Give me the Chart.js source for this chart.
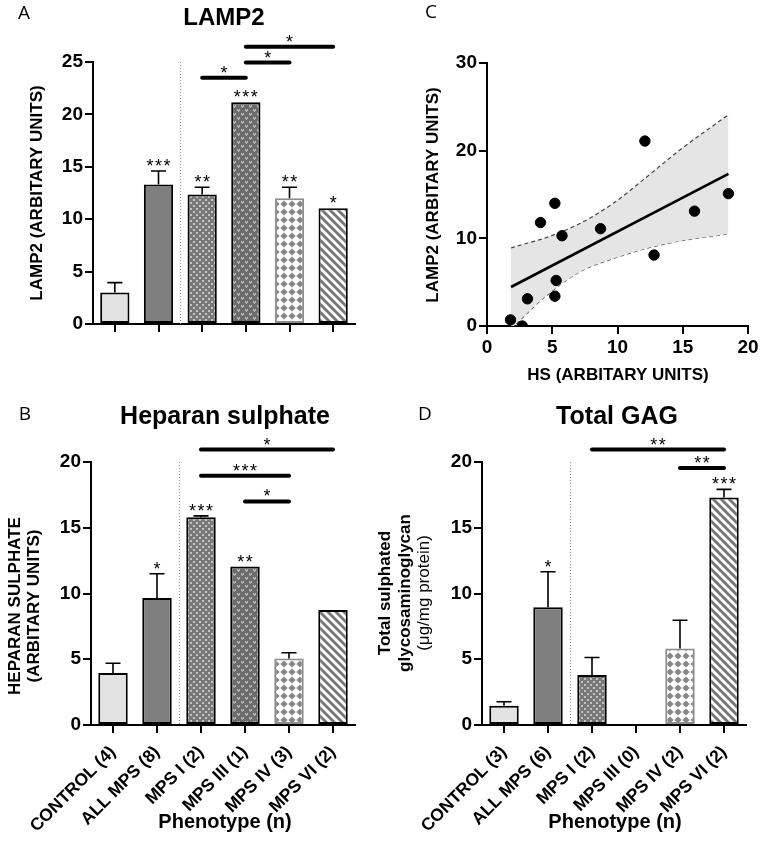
<!DOCTYPE html>
<html>
<head>
<meta charset="utf-8">
<script src="https://cdn.jsdelivr.net/npm/chart.js@4.4.1/dist/chart.umd.min.js"></script>
<style>
body { margin: 0; background: #fff; width: 762px; height: 859px; position: relative; overflow: hidden; }
canvas { position: absolute; }
</style>
</head>
<body>
<canvas id="chartA" width="380" height="380" style="left:0px;top:0px"></canvas>
<canvas id="chartC" width="382" height="395" style="left:380px;top:0px"></canvas>
<canvas id="chartB" width="370" height="479" style="left:0px;top:380px"></canvas>
<canvas id="chartD" width="392" height="479" style="left:370px;top:380px"></canvas>
<script>
// --- data ---
const groups = ['CONTROL', 'ALL MPS', 'MPS I', 'MPS III', 'MPS IV', 'MPS VI'];
const hsLabels = ['CONTROL (4)', 'ALL MPS (8)', 'MPS I (2)', 'MPS III (1)', 'MPS IV (3)', 'MPS VI (2)'];
const gagLabels = ['CONTROL (3)', 'ALL MPS (6)', 'MPS I (2)', 'MPS III (0)', 'MPS IV (2)', 'MPS VI (2)'];

const lamp2Mean = [3.0, 13.3, 12.35, 21.15, 12.0, 11.05];
const lamp2Err = [0.95, 1.3, 0.7, 0, 1.05, 0];
const lamp2Stars = ['', '***', '**', '***', '**', '*'];
const lamp2Pairs = [[2, 3, 23.5, '*'], [3, 4, 24.95, '*'], [3, 5, 26.45, '*']];

const hsMean = [3.95, 9.65, 15.8, 12.05, 5.05, 8.75];
const hsErr = [0.75, 1.85, 0.1, 0, 0.45, 0];
const hsStars = ['', '*', '***', '**', '', ''];
const hsPairs = [[2, 5, 20.95, '*'], [2, 4, 18.95, '***'], [3, 4, 17.0, '*']];

const gagMean = [1.47, 8.95, 3.8, null, 5.82, 17.3];
const gagErr = [0.3, 2.7, 1.33, 0, 2.15, 0.62];
const gagStars = ['', '*', '', '', '', '***'];
const gagPairs = [[2, 5, 20.95, '**'], [4, 5, 19.55, '**']];

// panel C scatter
const hsX = [1.8, 2.7, 3.1, 4.1, 5.2, 5.3, 5.2, 5.75, 8.7, 12.1, 12.8, 15.9, 18.5];
const lampY = [0.7, 0.0, 3.1, 11.8, 14.0, 5.2, 3.4, 10.3, 11.1, 21.1, 8.1, 13.1, 15.1];
const fitX = [1.84, 18.5];
const fitY = [4.45, 17.35];
const bandX = [1.84, 2.27, 4.57, 7.13, 9.68, 12.24, 14.8, 18.5];
const bandUpper = [8.9, 9.1, 10.1, 11.7, 14.0, 17.0, 20.1, 24.1];
const bandLower = [-0.3, 0.3, 3.5, 6.2, 7.7, 8.86, 9.7, 10.5];

Chart.defaults.font.family = '"Liberation Sans", Arial, sans-serif';
Chart.defaults.color = '#000';

function makePattern(kind) {
  const c = document.createElement('canvas');
  const g = c.getContext('2d');
  if (kind === 'dots') {
    c.width = 6; c.height = 6;
    g.fillStyle = '#787878'; g.fillRect(0, 0, 6, 6);
    g.fillStyle = '#c2c2c2';
    g.fillRect(1, 1, 2, 2); g.fillRect(4, 4, 2, 2);
  } else if (kind === 'hearts') {
    c.width = 8; c.height = 8;
    g.fillStyle = '#6c6c6c'; g.fillRect(0, 0, 8, 8);
    g.fillStyle = '#b9b9b9';
    [[0, 0], [4, 4]].forEach(([ox, oy]) => {
      g.fillRect(ox + 1, oy + 1, 1, 1); g.fillRect(ox + 3, oy + 1, 1, 1);
      g.fillRect(ox + 1, oy + 2, 3, 1); g.fillRect(ox + 2, oy + 3, 1, 1);
    });
  } else if (kind === 'diamonds') {
    c.width = 8; c.height = 8;
    g.fillStyle = '#fff'; g.fillRect(0, 0, 8, 8);
    g.fillStyle = '#868686';
    g.beginPath();
    g.moveTo(4, 0.4); g.lineTo(7.6, 4); g.lineTo(4, 7.6); g.lineTo(0.4, 4);
    g.closePath(); g.fill();
  } else {
    c.width = 8; c.height = 8;
    g.fillStyle = '#fff'; g.fillRect(0, 0, 8, 8);
    g.strokeStyle = '#777'; g.lineWidth = 2.9;
    [-8, 0, 8].forEach(o => { g.beginPath(); g.moveTo(o - 1, -1); g.lineTo(o + 9, 9); g.stroke(); });
  }
  return c.getContext('2d').createPattern(c, 'repeat');
}

const barFills = ['#e3e3e3', '#7f7f7f', makePattern('dots'), makePattern('hearts'), makePattern('diamonds'), makePattern('stripes')];
const barBorders = ['#000', '#000', '#000', '#000', '#8c8c8c', '#000'];

const tickFont = { size: 19, weight: 'bold' };

function texts(items) {
  return {
    id: 'texts',
    afterDraw(chart) {
      const ctx = chart.ctx;
      items.forEach(t => {
        ctx.save();
        ctx.font = t.font;
        ctx.fillStyle = '#000';
        ctx.textAlign = 'center';
        ctx.textBaseline = 'middle';
        ctx.translate(t.x, t.y);
        if (t.rot) ctx.rotate(-Math.PI / 2);
        ctx.fillText(t.text, 0, 0);
        ctx.restore();
      });
    }
  };
}

function starText(s) {
  return s.split('').join('\u200a');
}

// separator, error bars, stars and comparison bars
function barDecor(mean, err, stars, pairs) {
  return {
    id: 'barDecor',
    afterDraw(chart) {
      const ctx = chart.ctx;
      const x = chart.scales.x, y = chart.scales.y;
      const area = chart.chartArea;
      ctx.save();
      const sepX = Math.round((x.getPixelForValue(1) + x.getPixelForValue(2)) / 2) + 0.5;
      ctx.strokeStyle = '#8a8a8a';
      ctx.lineWidth = 1;
      ctx.setLineDash([1, 2]);
      ctx.beginPath(); ctx.moveTo(sepX, area.top); ctx.lineTo(sepX, area.bottom); ctx.stroke();
      ctx.setLineDash([]);

      ctx.strokeStyle = '#000';
      ctx.lineWidth = 1.6;
      ctx.fillStyle = '#000';
      ctx.font = '18px "Liberation Sans"';
      ctx.textAlign = 'center';
      ctx.textBaseline = 'alphabetic';
      mean.forEach((m, i) => {
        if (m == null) return;
        const cx = x.getPixelForValue(i);
        let top = y.getPixelForValue(m);
        if (err[i]) {
          const ye = y.getPixelForValue(m + err[i]);
          ctx.beginPath();
          ctx.moveTo(cx, top); ctx.lineTo(cx, ye);
          ctx.moveTo(cx - 7.5, ye); ctx.lineTo(cx + 7.5, ye);
          ctx.stroke();
          top = ye;
        }
        if (stars[i]) ctx.fillText(starText(stars[i]), cx, top + 1);
      });

      ctx.lineWidth = 4;
      ctx.lineCap = 'round';
      pairs.forEach(([a, b, level, s]) => {
        const x1 = x.getPixelForValue(a), x2 = x.getPixelForValue(b);
        const ly = y.getPixelForValue(level);
        ctx.beginPath(); ctx.moveTo(x1, ly); ctx.lineTo(x2, ly); ctx.stroke();
        ctx.fillText(starText(s), (x1 + x2) / 2, ly + 1);
      });
      ctx.restore();
    }
  };
}

function yAxis(max, step, width) {
  return {
    min: 0, max: max,
    ticks: { stepSize: step, font: tickFont, padding: 2, color: '#000' },
    grid: { drawOnChartArea: false, drawTicks: true, tickLength: 8, color: '#000', lineWidth: 2 },
    border: { color: '#000', width: 2 },
    afterFit: s => { s.width = width; }
  };
}

function xAxis(height, showLabels) {
  return {
    offset: true,
    ticks: showLabels
      ? { font: { size: 17.5, weight: 'bold' }, minRotation: 45, maxRotation: 45, autoSkip: false, padding: 9, color: '#000' }
      : { display: false },
    grid: { offset: false, drawOnChartArea: false, drawTicks: true, tickLength: 8, color: '#000', lineWidth: 2 },
    border: { color: '#000', width: 2 },
    afterFit: s => { s.height = height; }
  };
}

function barChart(id, labels, mean, err, stars, pairs, yMax, opts, extraTexts) {
  return new Chart(document.getElementById(id), {
    type: 'bar',
    data: {
      labels: labels,
      datasets: [{
        data: mean,
        backgroundColor: barFills,
        borderColor: barBorders,
        borderWidth: 2,
        borderSkipped: false,
        categoryPercentage: 1,
        barPercentage: 0.67
      }]
    },
    options: {
      responsive: false,
      animation: false,
      layout: { padding: opts.padding },
      plugins: { legend: { display: false }, tooltip: { enabled: false } },
      scales: {
        x: xAxis(opts.xHeight, opts.showLabels),
        y: yAxis(yMax, 5, opts.yWidth)
      }
    },
    plugins: [barDecor(mean, err, stars, pairs), texts(extraTexts)]
  });
}

// A - LAMP2
barChart('chartA', groups, lamp2Mean, lamp2Err, lamp2Stars, lamp2Pairs, 25,
  { padding: { top: 62, right: 25, left: 0, bottom: 0 }, xHeight: 56, yWidth: 93, showLabels: false },
  [
    { text: 'A', x: 24, y: 14, font: '19px "Open Sans"' },
    { text: 'LAMP2', x: 224, y: 18, font: 'bold 24px "Liberation Sans"' },
    { text: 'LAMP2 (ARBITARY UNITS)', x: 37, y: 193, rot: true, font: 'bold 17px "Liberation Sans"' }
  ]);

// B - Heparan sulphate
barChart('chartB', hsLabels, hsMean, hsErr, hsStars, hsPairs, 20,
  { padding: { top: 82, right: 15, left: 0, bottom: 0 }, xHeight: 134, yWidth: 91, showLabels: true },
  [
    { text: 'B', x: 25, y: 35, font: '19px "Open Sans"' },
    { text: 'Heparan sulphate', x: 225, y: 37, font: 'bold 25px "Liberation Sans"' },
    { text: 'HEPARAN SULPHATE', x: 15, y: 226, rot: true, font: 'bold 17px "Liberation Sans"' },
    { text: '(ARBITARY UNITS)', x: 34, y: 226, rot: true, font: 'bold 17px "Liberation Sans"' },
    { text: 'Phenotype (n)', x: 225, y: 442, font: 'bold 20px "Liberation Sans"' }
  ]);

// D - Total GAG
barChart('chartD', gagLabels, gagMean, gagErr, gagStars, gagPairs, 20,
  { padding: { top: 82, right: 16, left: 0, bottom: 0 }, xHeight: 134, yWidth: 112, showLabels: true },
  [
    { text: 'D', x: 55, y: 35, font: '19px "Open Sans"' },
    { text: 'Total GAG', x: 247, y: 37, font: 'bold 25px "Liberation Sans"' },
    { text: 'Total sulphated', x: 15, y: 213, rot: true, font: 'bold 17px "Liberation Sans"' },
    { text: 'glycosaminoglycan', x: 35, y: 213, rot: true, font: 'bold 17px "Liberation Sans"' },
    { text: '(\u03bcg/mg protein)', x: 54, y: 213, rot: true, font: '17px "Liberation Sans"' },
    { text: 'Phenotype (n)', x: 245, y: 442, font: 'bold 20px "Liberation Sans"' }
  ]);

// C - LAMP2 vs HS correlation
new Chart(document.getElementById('chartC'), {
  type: 'scatter',
  data: {
    datasets: [
      {
        data: hsX.map((v, i) => ({ x: v, y: lampY[i] })),
        backgroundColor: '#000',
        borderColor: '#000',
        pointRadius: 5.2,
        pointHoverRadius: 5.2
      },
      {
        type: 'line',
        data: fitX.map((v, i) => ({ x: v, y: fitY[i] })),
        borderColor: '#000',
        borderWidth: 2.6,
        pointRadius: 0,
        fill: false
      },
      {
        type: 'line',
        data: bandX.map((v, i) => ({ x: v, y: bandUpper[i] })),
        borderColor: '#444',
        borderWidth: 1.2,
        borderDash: [4, 3],
        pointRadius: 0,
        cubicInterpolationMode: 'monotone',
        backgroundColor: '#e5e5e5',
        fill: '+1',
        clip: 0
      },
      {
        type: 'line',
        data: bandX.map((v, i) => ({ x: v, y: bandLower[i] })),
        borderColor: '#444',
        borderWidth: 1.2,
        borderDash: [4, 3],
        pointRadius: 0,
        cubicInterpolationMode: 'monotone',
        fill: false,
        clip: 0
      }
    ]
  },
  options: {
    responsive: false,
    animation: false,
    layout: { padding: { top: 63, right: 14, left: 0, bottom: 0 } },
    plugins: { legend: { display: false }, tooltip: { enabled: false } },
    scales: {
      x: {
        type: 'linear', min: 0, max: 20,
        ticks: { stepSize: 5, font: tickFont, padding: 2, color: '#000' },
        grid: { drawOnChartArea: false, drawTicks: true, tickLength: 8, color: '#000', lineWidth: 2 },
        border: { color: '#000', width: 2 },
        afterFit: s => { s.height = 69; }
      },
      y: yAxis(30, 10, 107)
    }
  },
  plugins: [texts([
    { text: 'C', x: 51, y: 13, font: '19px "Open Sans"' },
    { text: 'LAMP2 (ARBITARY UNITS)', x: 53, y: 195, rot: true, font: 'bold 17px "Liberation Sans"' },
    { text: 'HS (ARBITARY UNITS)', x: 238, y: 375, font: 'bold 17px "Liberation Sans"' }
  ])]
});
</script>
</body>
</html>
